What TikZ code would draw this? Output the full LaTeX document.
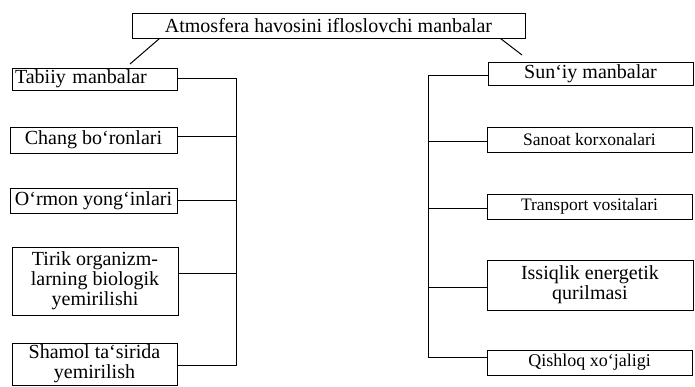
\documentclass[tikz,border=0pt]{standalone}
\usepackage{fontspec}
\setmainfont{Liberation Serif}
\begin{document}
\begin{tikzpicture}[x=1pt,y=-1pt,
  box/.style={draw,line width=1pt,inner xsep=3pt,inner ysep=0pt,font=\fontsize{20}{20}\selectfont,align=center},
  smallbox/.style={box,font=\fontsize{17.5}{18}\selectfont},
  midbox/.style={box,font=\fontsize{18}{19}\selectfont},
  conn/.style={line width=1pt}]
\useasboundingbox (0,0) rectangle (695,386);
% top
\node[box,minimum width=393pt,minimum height=25pt] (top) at (328.5,25.5) {Atmosfera havosini ifloslovchi manbalar};
% left column
\node[box,minimum width=165pt,minimum height=22pt,text width=159pt,align=left] (tabiiy) at (94.5,79) {Tabiiy manbalar};
\node[box,minimum width=167pt,minimum height=26pt] (chang) at (93.5,140) {Chang bo`ronlari};
\node[box,minimum width=167pt,minimum height=25pt] (ormon) at (93.5,200.5) {O`rmon yong`inlari};
\node[box,minimum width=166pt,minimum height=68pt] (tirik) at (95,281) {Tirik organizm-\\larning biologik\\yemirilishi};
\node[box,minimum width=165pt,minimum height=42pt] (shamol) at (94.5,364) {Shamol ta`sirida\\yemirilish};
% right column
\node[box,minimum width=205pt,minimum height=23pt] (suniy) at (590.5,73.5) {Sun`iy manbalar};
\node[smallbox,minimum width=205pt,minimum height=25pt] (sanoat) at (589.5,139.5) {Sanoat korxonalari};
\node[smallbox,minimum width=205pt,minimum height=25pt] (transport) at (589.5,206.5) {Transport vositalari};
\node[box,minimum width=206pt,minimum height=50pt] (issiqlik) at (590,285) {Issiqlik energetik\\qurilmasi};
\node[midbox,minimum width=205pt,minimum height=25pt] (qishloq) at (589.5,362.5) {Qishloq xo`jaligi};
% bus coordinates
\coordinate (lbus) at (236,0);
\coordinate (rbus) at (428,0);
\coordinate (lend) at (130,64);
\coordinate (rend) at (522,55);
% top links
\draw[conn] ([xshift=28pt]top.south west) -- (lend);
\draw[conn] ([xshift=-25pt]top.south east) -- (rend);
% left bus
\draw[conn] ([yshift=1pt]tabiiy.east) -- ([yshift=1pt]tabiiy.east -| lbus) -- ([yshift=-1pt]shamol.east -| lbus) -- ([yshift=-1pt]shamol.east);
\draw[conn] ([yshift=4pt]chang.east) -- ([yshift=4pt]chang.east -| lbus);
\draw[conn] (ormon.east) -- (ormon.east -| lbus);
\draw[conn] ([yshift=8pt]tirik.east) -- ([yshift=8pt]tirik.east -| lbus);
% right bus
\draw[conn] ([yshift=-1.5pt]suniy.west) -- ([yshift=-1.5pt]suniy.west -| rbus) -- ([yshift=5.5pt]qishloq.west -| rbus) -- ([yshift=5.5pt]qishloq.west);
\draw[conn] ([yshift=-1.5pt]sanoat.west) -- ([yshift=-1.5pt]sanoat.west -| rbus);
\draw[conn] ([yshift=-1.5pt]transport.west) -- ([yshift=-1.5pt]transport.west -| rbus);
\draw[conn] ([yshift=-2pt]issiqlik.west) -- ([yshift=-2pt]issiqlik.west -| rbus);
\end{tikzpicture}
\end{document}
